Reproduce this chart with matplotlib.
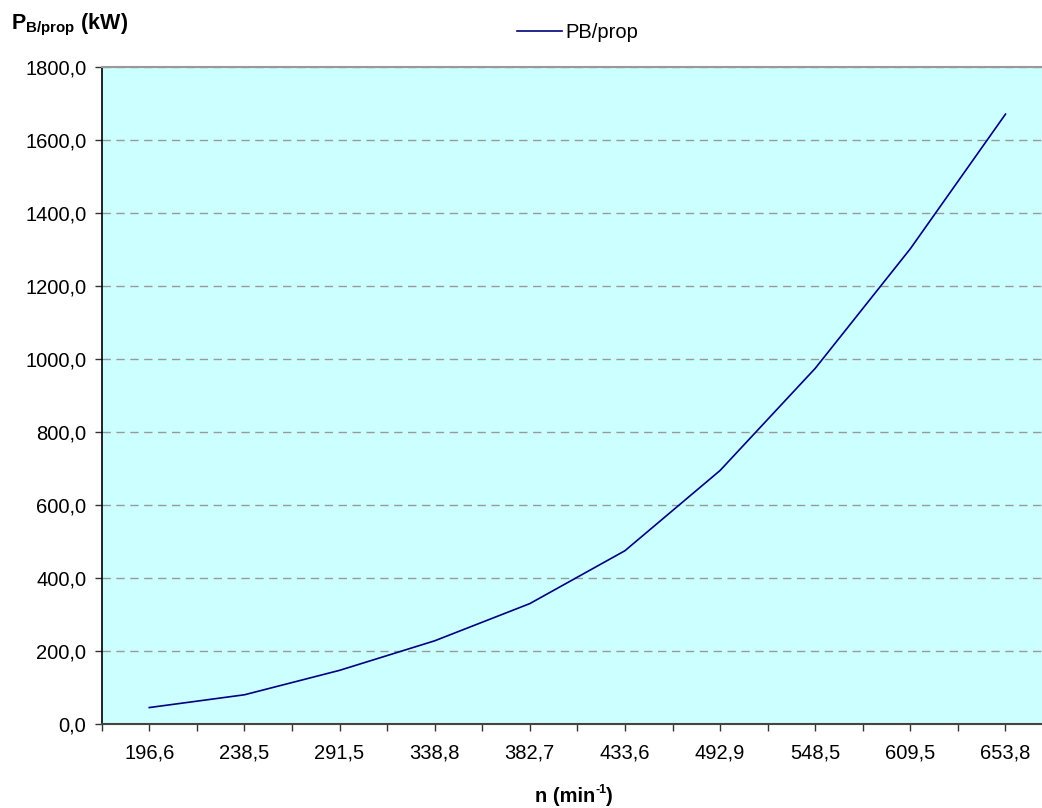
import matplotlib
matplotlib.use("Agg")
import matplotlib.pyplot as plt
from matplotlib.ticker import FuncFormatter, FixedLocator

# data
rpm_labels = ["196,6", "238,5", "291,5", "338,8", "382,7",
              "433,6", "492,9", "548,5", "609,5", "653,8"]
power_kw = [45, 80, 147, 228, 330, 475, 695, 975, 1303, 1672]
y_ticks = [0, 200, 400, 600, 800, 1000, 1200, 1400, 1600, 1800]

plt.rcParams['font.family'] = ['Liberation Sans', 'DejaVu Sans']
plt.rcParams['mathtext.fontset'] = 'custom'
plt.rcParams['mathtext.rm'] = 'Liberation Sans'
plt.rcParams['mathtext.bf'] = 'Liberation Sans:bold'

fs = 14.5
fig = plt.figure(figsize=(10.42, 8.08), dpi=100)
ax = fig.add_axes([0.0976, 0.104, 0.913, 0.8125])
ax.set_facecolor('#CCFFFF')

x = list(range(len(rpm_labels)))
ax.plot(x, power_kw, color='#000080', linewidth=1.2, label='PB/prop')

ax.set_xlim(-0.5, len(rpm_labels) - 0.5)
ax.set_ylim(0, 1800)
ax.set_xticks(x)
ax.set_xticklabels(rpm_labels)
ax.xaxis.set_minor_locator(FixedLocator([i - 0.5 for i in range(len(rpm_labels) + 1)]))
ax.set_yticks(y_ticks)
ax.yaxis.set_major_formatter(FuncFormatter(lambda v, p: f"{v:.1f}".replace('.', ',')))

ax.tick_params(axis='both', which='both', direction='out', length=5, width=1,
               colors='#333333', labelcolor='black', labelsize=fs)
ax.tick_params(axis='x', which='major', pad=9)
ax.tick_params(axis='y', pad=6)

ax.grid(axis='y', color='#999999', linestyle=(0, (6, 4)), linewidth=1)
ax.set_axisbelow(True)

ax.spines['top'].set_color('#999999')
ax.spines['top'].set_linewidth(1.5)
ax.spines['left'].set_color('black')
ax.spines['left'].set_linewidth(1.2)
ax.spines['bottom'].set_color('#444444')
ax.spines['bottom'].set_linewidth(1.5)
ax.spines['right'].set_visible(False)

fig.legend(loc='center', bbox_to_anchor=(578 / 1042, 1 - 33 / 808), frameon=False,
           fontsize=fs, handlelength=2.2, handletextpad=0.2)

fig.text(11 / 1042, 1 - 25 / 808, r'$\mathbf{P}_{\mathbf{B/prop}}$ (kW)',
         fontsize=15.5, fontweight='bold', ha='left', va='center')

# x axis title "n (min-1)" with a plain hyphen in the superscript
t1 = fig.text(535 / 1042, 1 - 796 / 808, 'n (min', fontsize=fs, fontweight='bold',
              ha='left', va='center')
fig.canvas.draw()
bb = t1.get_window_extent()
t2 = fig.text(bb.x1 / 1042, 1 - 790 / 808, '-1', fontsize=fs * 0.62, fontweight='bold',
              ha='left', va='center')
fig.canvas.draw()
bb2 = t2.get_window_extent()
fig.text(bb2.x1 / 1042, 1 - 796 / 808, ')', fontsize=fs, fontweight='bold',
         ha='left', va='center')

fig.savefig('out.png', dpi=100)
